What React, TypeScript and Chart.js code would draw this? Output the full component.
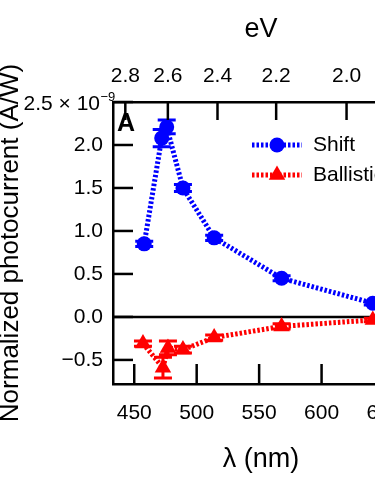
import React, { useEffect, useRef } from "react";
import { Chart, registerables } from "chart.js";

Chart.register(...registerables);

// ---- data ----
const shiftLambda = [458, 472, 476, 489, 514, 568, 641];
const shiftValues = [0.85, 2.08, 2.21, 1.5, 0.92, 0.45, 0.16];
const shiftErrors = [0.03, 0.1, 0.08, 0.04, 0.03, 0.03, 0.02];

const ballisticLambda = [457, 473, 477, 489, 514, 568, 641];
const ballisticValues = [-0.31, -0.59, -0.36, -0.38, -0.24, -0.11, -0.035];
const ballisticErrors = [0.03, 0.12, 0.08, 0.04, 0.03, 0.03, 0.02];

const xTicks = [450, 500, 550, 600, 650];
const eVTicks = [2.8, 2.6, 2.4, 2.2, 2.0];
const yTicks = [-0.5, 0, 0.5, 1.0, 1.5, 2.0, 2.5];
const yTopLabelBase = "2.5 × 10";
const yTopLabelExp = "−9";

const X_MIN = 433;
const X_MAX = 670;
const Y_MIN = -0.78;
const Y_MAX = 2.5;

const BLUE = "#0000ff";
const RED = "#ff0000";
const FONT = '"Liberation Sans", Arial, Helvetica, sans-serif';

const seriesInfo = [
  { label: "Shift", color: BLUE, style: "circle", errors: shiftErrors },
  { label: "Ballistic", color: RED, style: "triangle", errors: ballisticErrors },
];

function drawMarker(ctx: CanvasRenderingContext2D, style: string, x: number, y: number, r: number, color: string) {
  ctx.save();
  ctx.fillStyle = color;
  ctx.beginPath();
  if (style === "circle") {
    ctx.arc(x, y, r, 0, Math.PI * 2);
  } else {
    let rad = 0;
    ctx.moveTo(x + Math.sin(rad) * r, y - Math.cos(rad) * r);
    rad += (2 * Math.PI) / 3;
    ctx.lineTo(x + Math.sin(rad) * r, y - Math.cos(rad) * r);
    rad += (2 * Math.PI) / 3;
    ctx.lineTo(x + Math.sin(rad) * r, y - Math.cos(rad) * r);
    ctx.closePath();
  }
  ctx.fill();
  ctx.restore();
}

const decorPlugin = {
  id: "decor",
  beforeDatasetsDraw(chart: any) {
    const { ctx, chartArea, scales } = chart;
    const y = scales.y;
    // zero line
    ctx.save();
    ctx.strokeStyle = "#000";
    ctx.lineWidth = 2.5;
    const y0 = y.getPixelForValue(0);
    ctx.beginPath();
    ctx.moveTo(chartArea.left, y0);
    ctx.lineTo(chartArea.right, y0);
    ctx.stroke();
    ctx.restore();
    // error bars
    chart.data.datasets.forEach((ds: any, di: number) => {
      const meta = chart.getDatasetMeta(di);
      const errs = seriesInfo[di].errors;
      ctx.save();
      ctx.strokeStyle = ds.borderColor;
      ctx.lineWidth = 3;
      meta.data.forEach((pt: any, i: number) => {
        const v = ds.data[i].y;
        const e = errs[i];
        const top = y.getPixelForValue(v + e);
        const bot = y.getPixelForValue(v - e);
        ctx.beginPath();
        ctx.moveTo(pt.x, top);
        ctx.lineTo(pt.x, bot);
        ctx.moveTo(pt.x - 9, top);
        ctx.lineTo(pt.x + 9, top);
        ctx.moveTo(pt.x - 9, bot);
        ctx.lineTo(pt.x + 9, bot);
        ctx.stroke();
      });
      ctx.restore();
    });
  },
  afterDraw(chart: any) {
    const { ctx, chartArea, scales } = chart;
    ctx.save();
    ctx.strokeStyle = "#000";
    ctx.lineWidth = 2.5;
    // inward ticks
    scales.x.ticks.forEach((t: any) => {
      const px = scales.x.getPixelForValue(t.value);
      ctx.beginPath();
      ctx.moveTo(px, chartArea.bottom);
      ctx.lineTo(px, chartArea.bottom - 20);
      ctx.stroke();
    });
    scales.x2.ticks.forEach((t: any) => {
      const px = scales.x2.getPixelForValue(t.value);
      ctx.beginPath();
      ctx.moveTo(px, chartArea.top);
      ctx.lineTo(px, chartArea.top + 18);
      ctx.stroke();
    });
    scales.y.ticks.forEach((t: any) => {
      const py = scales.y.getPixelForValue(t.value);
      ctx.beginPath();
      ctx.moveTo(chartArea.left, py);
      ctx.lineTo(chartArea.left + 20, py);
      ctx.stroke();
    });
    ctx.restore();

    // top y tick label with superscript exponent
    const pyTop = scales.y.getPixelForValue(Y_MAX);
    ctx.save();
    ctx.fillStyle = "#000";
    ctx.textBaseline = "middle";
    ctx.textAlign = "right";
    ctx.font = `21px ${FONT}`;
    const baseRight = chartArea.left - 13;
    ctx.fillText(yTopLabelBase, baseRight, pyTop + 2);
    ctx.textAlign = "left";
    ctx.font = `13px ${FONT}`;
    ctx.fillText(yTopLabelExp, baseRight + 0.5, pyTop - 5);
    ctx.restore();

    // panel label
    ctx.save();
    ctx.fillStyle = "#000";
    ctx.font = `bold 25px ${FONT}`;
    ctx.textBaseline = "alphabetic";
    ctx.textAlign = "left";
    ctx.fillText("A", chartArea.left + 4, chartArea.top + 29);
    ctx.restore();

    // legend
    chart.data.datasets.forEach((ds: any, di: number) => {
      const info = seriesInfo[di];
      const ly = chartArea.top + 43 + di * 30;
      const lx0 = chartArea.left + 139;
      const lx1 = chartArea.left + 189;
      ctx.save();
      ctx.strokeStyle = ds.borderColor;
      ctx.lineWidth = ds.borderWidth;
      ctx.setLineDash(ds.borderDash);
      ctx.beginPath();
      ctx.moveTo(lx0, ly);
      ctx.lineTo(lx1, ly);
      ctx.stroke();
      ctx.restore();
      drawMarker(ctx, info.style, (lx0 + lx1) / 2, ly, ds.pointRadius, ds.borderColor);
      ctx.save();
      ctx.fillStyle = "#000";
      ctx.font = `21px ${FONT}`;
      ctx.textBaseline = "middle";
      ctx.textAlign = "left";
      ctx.fillText(info.label, chartArea.left + 200, ly);
      ctx.restore();
    });
  },
};

export default function App() {
  const canvasRef = useRef<HTMLCanvasElement | null>(null);

  useEffect(() => {
    if (!canvasRef.current) return;
    const tickFont = { family: FONT, size: 21 };
    const chart = new Chart(canvasRef.current, {
      type: "line",
      data: {
        datasets: [
          {
            label: "Shift",
            data: shiftLambda.map((x, i) => ({ x, y: shiftValues[i] })),
            borderColor: BLUE,
            backgroundColor: BLUE,
            borderWidth: 5,
            borderDash: [2.5, 2],
            pointStyle: "circle",
            pointRadius: 7.5,
            pointBorderWidth: 0,
            pointBackgroundColor: BLUE,
            tension: 0,
            fill: false,
          },
          {
            label: "Ballistic",
            data: ballisticLambda.map((x, i) => ({ x, y: ballisticValues[i] })),
            borderColor: RED,
            backgroundColor: RED,
            borderWidth: 5,
            borderDash: [2.5, 2],
            pointStyle: "triangle",
            pointRadius: 9.5,
            pointBorderWidth: 0,
            pointBackgroundColor: RED,
            tension: 0,
            fill: false,
          },
        ],
      },
      options: {
        animation: false,
        responsive: false,
        layout: { padding: { left: 0, top: 0, bottom: 0, right: 20 } },
        plugins: { legend: { display: false }, tooltip: { enabled: false } },
        scales: {
          x: {
            type: "linear",
            position: "bottom",
            min: X_MIN,
            max: X_MAX,
            afterBuildTicks: (s: any) => {
              s.ticks = xTicks.map((v) => ({ value: v }));
            },
            afterFit: (s: any) => {
              s.height = 116;
            },
            grid: { display: false, drawTicks: false },
            border: { display: true, color: "#000", width: 2.5 },
            ticks: {
              padding: 17,
              color: "#000",
              font: tickFont,
              autoSkip: false,
              maxRotation: 0,
              callback: (v: any) => String(v),
            },
            title: {
              display: true,
              text: "λ (nm)",
              color: "#000",
              font: { family: FONT, size: 27, lineHeight: 1 },
              padding: { top: 0, bottom: 26.5 },
            },
          },
          x2: {
            type: "linear",
            position: "top",
            min: X_MIN,
            max: X_MAX,
            afterBuildTicks: (s: any) => {
              s.ticks = eVTicks.map((e) => ({ value: 1240 / e }));
            },
            afterFit: (s: any) => {
              s.height = 102;
            },
            grid: { display: false, drawTicks: false },
            border: { display: true, color: "#000", width: 2.5 },
            ticks: {
              padding: 13,
              color: "#000",
              font: tickFont,
              autoSkip: false,
              maxRotation: 0,
              callback: (_v: any, i: number) => eVTicks[i].toFixed(1),
            },
            title: {
              display: true,
              text: "eV",
              color: "#000",
              font: { family: FONT, size: 27, lineHeight: 1 },
              padding: { top: 16.5, bottom: 0 },
            },
          },
          y: {
            type: "linear",
            position: "left",
            min: Y_MIN,
            max: Y_MAX,
            afterBuildTicks: (s: any) => {
              s.ticks = yTicks.map((v) => ({ value: v }));
            },
            afterFit: (s: any) => {
              s.width = 113;
            },
            grid: { display: false, drawTicks: false },
            border: { display: true, color: "#000", width: 2.5 },
            ticks: {
              padding: 10,
              color: "#000",
              font: tickFont,
              autoSkip: false,
              callback: (v: any) => {
                const n = Number(v);
                if (Math.abs(n - Y_MAX) < 1e-9) return "";
                if (n < 0) return "−" + Math.abs(n).toFixed(1);
                return n.toFixed(1);
              },
            },
            title: {
              display: true,
              text: "Normalized photocurrent (A/W)",
              color: "#000",
              font: { family: FONT, size: 26, lineHeight: 0.85 },
              padding: { top: 0, bottom: 0 },
            },
          },
        },
      },
      plugins: [decorPlugin],
    } as any);
    return () => chart.destroy();
  }, []);

  return (
    <div
      style={{
        position: "absolute",
        left: 0,
        top: 0,
        width: 375,
        height: 500,
        overflow: "hidden",
        background: "#fff",
      }}
    >
      <canvas
        ref={canvasRef}
        width={429}
        height={500}
        style={{ width: 429, height: 500, display: "block" }}
      />
    </div>
  );
}
